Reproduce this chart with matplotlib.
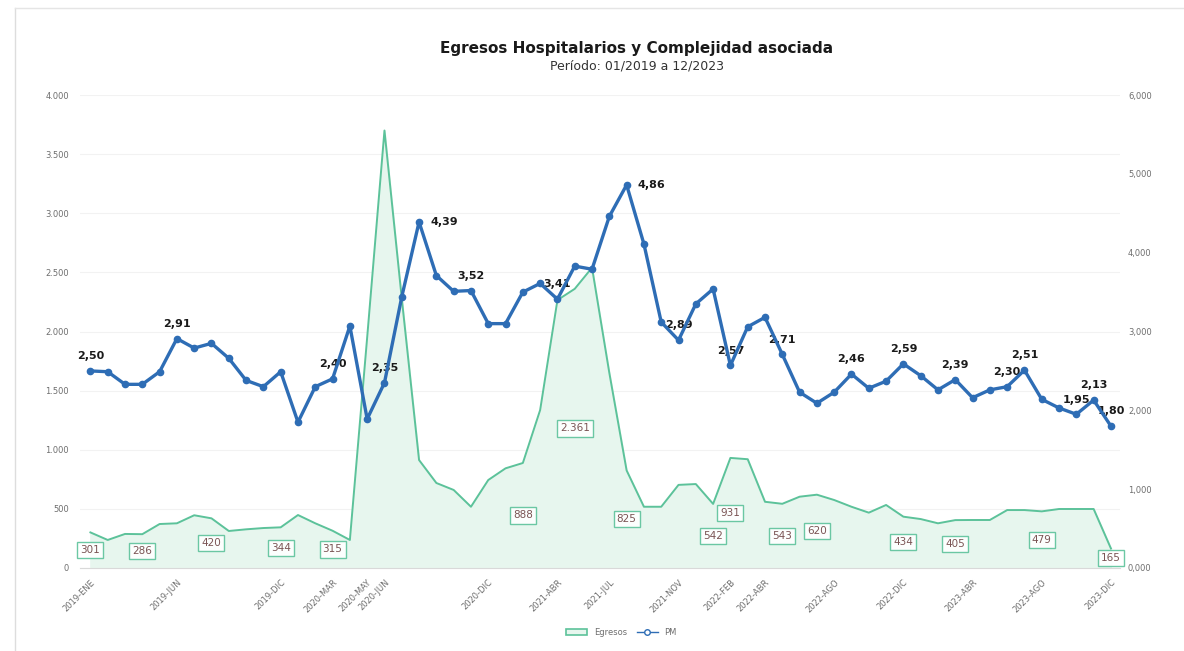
import matplotlib.pyplot as plt
from matplotlib.lines import Line2D
from matplotlib.patches import Patch
from matplotlib.ticker import FuncFormatter

# Monthly data 01/2019 - 12/2023
meses = ["ENE", "FEB", "MAR", "ABR", "MAY", "JUN", "JUL", "AGO", "SEP", "OCT", "NOV", "DIC"]
periodos = [f"{a}-{m}" for a in range(2019, 2024) for m in meses]

egresos = [301, 237, 288, 286, 372, 378, 446, 420, 313, 327, 338, 344,
           448, 378, 315, 237, 1950, 3700, 2280, 913, 719, 660, 518, 744,
           843, 888, 1336, 2266, 2361, 2540, 1650, 825, 518, 518, 703, 710,
           542, 931, 920, 560, 543, 603, 620, 575, 518, 468, 533, 434,
           414, 378, 405, 406, 406, 490, 490, 479, 499, 499, 499, 165]

pm = [2.50, 2.49, 2.33, 2.33, 2.49, 2.91, 2.79, 2.85, 2.66, 2.38, 2.30, 2.49,
      1.85, 2.30, 2.40, 3.07, 1.89, 2.35, 3.44, 4.39, 3.71, 3.51, 3.52, 3.10,
      3.10, 3.50, 3.61, 3.41, 3.83, 3.79, 4.46, 4.86, 4.11, 3.12, 2.89, 3.35,
      3.54, 2.57, 3.06, 3.18, 2.71, 2.23, 2.09, 2.23, 2.46, 2.28, 2.37, 2.59,
      2.44, 2.26, 2.39, 2.16, 2.26, 2.30, 2.51, 2.14, 2.03, 1.95, 2.13, 1.80]

# which points carry a value label, and which months get a tick label
egresos_etiquetas = [0, 3, 7, 11, 14, 25, 28, 31, 36, 37, 40, 42, 47, 50, 55, 59]
pm_etiquetas = [0, 5, 14, 17, 19, 22, 27, 31, 34, 37, 40, 44, 47, 50, 53, 54, 57, 58, 59]
pm_a_la_derecha = [19, 31]
ticks_x = [0, 5, 11, 14, 16, 17, 23, 27, 30, 34, 37, 39, 43, 47, 51, 55, 59]

verde = "#5CC29A"
relleno = "#E7F6EE"
azul = "#2E6DB5"
gris = "#6E6E6E"


def miles(v, pos):
    return f"{int(v):,}".replace(",", ".")


def decimales(v, pos):
    return f"{v:.3f}".replace(".", ",")


fig = plt.figure(figsize=(11.84, 6.51), dpi=100)
ax = fig.add_axes([0.0676, 0.1275, 0.878, 0.7265])
ax2 = ax.twinx()

x = list(range(len(periodos)))

ax.fill_between(x, egresos, 0, color=relleno, zorder=1)
ax.plot(x, egresos, color=verde, lw=1.4, zorder=2)
for i in egresos_etiquetas:
    txt = f"{egresos[i]:,}".replace(",", ".")
    ax.text(i, egresos[i] / 2, txt, ha="center", va="center", fontsize=7.5,
            color="#7A5454", zorder=3,
            bbox=dict(boxstyle="square,pad=0.3", fc="white", ec=verde, lw=1.0, alpha=0.9))

ax2.plot(x, pm, color=azul, lw=2.4, marker="o", ms=4.5, zorder=4)
for i in pm_etiquetas:
    txt = f"{pm[i]:.2f}".replace(".", ",")
    if i in pm_a_la_derecha:
        ax2.annotate(txt, (i, pm[i]), xytext=(8, 0), textcoords="offset points",
                     ha="left", va="center", fontsize=8, fontweight="bold", color="#1A1A1A")
    else:
        ax2.annotate(txt, (i, pm[i]), xytext=(0, 7), textcoords="offset points",
                     ha="center", va="bottom", fontsize=8, fontweight="bold", color="#1A1A1A")

ax.set_xlim(-0.6, 59.5)
ax.set_ylim(0, 4000)
ax2.set_ylim(0, 6)
ax.set_yticks(range(0, 4001, 500))
ax2.set_yticks(range(0, 7))
ax.yaxis.set_major_formatter(FuncFormatter(miles))
ax2.yaxis.set_major_formatter(FuncFormatter(decimales))
ax.set_xticks(ticks_x)
ax.set_xticklabels([periodos[i] for i in ticks_x], rotation=45, ha="right",
                   rotation_mode="anchor", fontsize=6, color=gris)
ax.tick_params(axis="y", labelsize=6, colors=gris, length=0, pad=8)
ax2.tick_params(axis="y", labelsize=6, colors=gris, length=0, pad=6)
ax.tick_params(axis="x", length=0, pad=7)
ax.grid(axis="y", color="#F2F2F2", lw=0.8)
ax.set_axisbelow(True)
for a in (ax, ax2):
    for s in a.spines.values():
        s.set_visible(False)
ax.spines["bottom"].set_visible(True)
ax.spines["bottom"].set_color("#D9D9D9")

fig.text(0.538, 0.925, "Egresos Hospitalarios y Complejidad asociada", ha="center",
         va="center", fontsize=11, fontweight="bold", color="#1A1A1A")
fig.text(0.538, 0.898, "Período: 01/2019 a 12/2023", ha="center", va="center",
         fontsize=9, color="#333333")

handles = [Patch(facecolor=relleno, edgecolor=verde, lw=1.2, label="Egresos"),
           Line2D([], [], color=azul, lw=1, marker="o", ms=4, mfc="white", label="PM")]
fig.legend(handles=handles, loc="center", bbox_to_anchor=(0.525, 0.029), ncol=2,
           frameon=False, fontsize=6, labelcolor=gris, handlelength=2.5, columnspacing=1.2)

# chart border as in the original screenshot
fig.add_artist(Line2D([0.0127, 0.0127], [0, 0.988], color="#DDDDDD", lw=1))
fig.add_artist(Line2D([0.0127, 1], [0.988, 0.988], color="#E5E5E5", lw=1))

fig.savefig("out.png", dpi=100, facecolor="white")
